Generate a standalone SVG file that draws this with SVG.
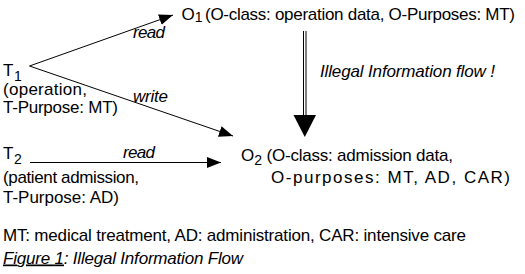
<svg xmlns="http://www.w3.org/2000/svg" width="525" height="274" viewBox="0 0 525 274">
<style>
text{font-family:"Liberation Sans",Arial,sans-serif;font-size:17px;fill:#000}
.sub{font-size:14px}
.it{font-style:italic}
.ln{stroke:#000;stroke-width:1;fill:none}
</style>
<defs>
<marker id="ah" markerUnits="userSpaceOnUse" markerWidth="16" markerHeight="12" refX="14" refY="5.5" orient="auto">
<path d="M0,0 L14,5.5 L0,11 Z" fill="#000"/>
</marker>
</defs>
<rect width="525" height="274" fill="#fff"/>
<g id="T1">
<text x="3" y="76">T</text>
<text class="sub" x="14" y="81">1</text>
<text x="3" y="95" textLength="84" lengthAdjust="spacing">(operation,</text>
<text x="3" y="112.5" textLength="115" lengthAdjust="spacing">T-Purpose: MT)</text>
</g>
<g id="T2">
<text x="3" y="159">T</text>
<text class="sub" x="14" y="163.5">2</text>
<text x="3" y="183" textLength="136" lengthAdjust="spacing">(patient admission,</text>
<text x="3" y="202.5" textLength="116" lengthAdjust="spacing">T-Purpose: AD)</text>
</g>
<g id="O1">
<text x="181.5" y="19.5">O</text>
<text class="sub" x="194.7" y="22">1</text>
<text x="205" y="19.5" textLength="310" lengthAdjust="spacing">(O-class: operation data, O-Purposes: MT)</text>
</g>
<g id="O2">
<text x="241" y="160.5">O</text>
<text class="sub" x="254.3" y="164.5">2</text>
<text x="266.5" y="160.5" textLength="186.5" lengthAdjust="spacing">(O-class: admission data,</text>
<text x="271" y="183" textLength="239" lengthAdjust="spacing">O-purposes: MT, AD, CAR)</text>
</g>
<g id="connectors">
<line class="ln" x1="29.5" y1="66" x2="173" y2="15" marker-end="url(#ah)"/>
<line class="ln" x1="29.5" y1="66" x2="233" y2="136" marker-end="url(#ah)"/>
<line class="ln" x1="30" y1="162.5" x2="221" y2="162.5" marker-end="url(#ah)"/>
<g id="illegal-flow">
<line class="ln" x1="303.5" y1="31" x2="303.5" y2="116"/>
<line class="ln" x1="306" y1="31" x2="306" y2="116"/>
<path d="M293.5,115 L316,115 L304.8,137 Z" fill="#000"/>
</g>
</g>
<g id="labels">
<text class="it" x="133" y="38" textLength="32" lengthAdjust="spacing">read</text>
<text class="it" x="133" y="101.5" textLength="35" lengthAdjust="spacing">write</text>
<text class="it" x="123" y="157.5" textLength="32" lengthAdjust="spacing">read</text>
<text class="it" x="320" y="76.5" textLength="175" lengthAdjust="spacing">Illegal Information flow !</text>
</g>
<g id="legend">
<text x="3" y="240.5" textLength="463" lengthAdjust="spacing">MT: medical treatment, AD: administration, CAR: intensive care</text>
<text class="it" x="3" y="263.5" textLength="240" lengthAdjust="spacing"><tspan text-decoration="underline">Figure 1</tspan>: Illegal Information Flow</text>
</g>
</svg>
